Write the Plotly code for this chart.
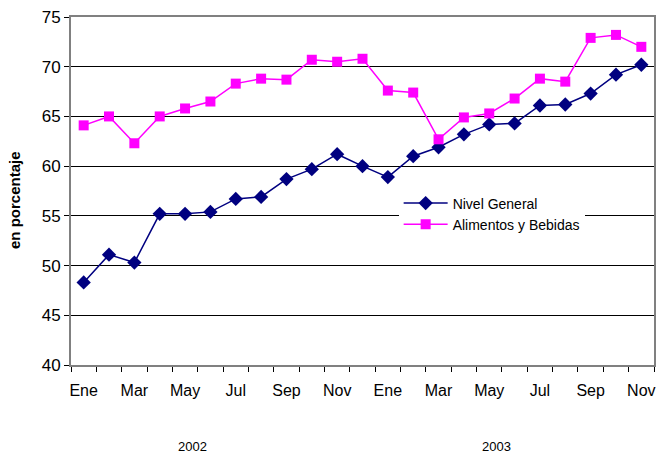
import plotly.graph_objects as go

months = ["Ene", "Feb", "Mar", "Abr", "May", "Jun", "Jul", "Ago", "Sep", "Oct", "Nov", "Dic",
          "Ene", "Feb", "Mar", "Abr", "May", "Jun", "Jul", "Ago", "Sep", "Oct", "Nov"]
nivel_general = [48.3, 51.1, 50.3, 55.2, 55.2, 55.4, 56.7, 56.9, 58.7, 59.7, 61.2, 60.0,
                 58.9, 61.0, 61.9, 63.2, 64.2, 64.3, 66.1, 66.2, 67.3, 69.2, 70.2]
alimentos = [64.1, 65.0, 62.3, 65.0, 65.8, 66.5, 68.3, 68.8, 68.7, 70.7, 70.5, 70.8,
             67.6, 67.4, 62.7, 64.9, 65.3, 66.8, 68.8, 68.5, 72.9, 73.2, 72.0]
years = ["2002", "2003"]
year_pos = [4.3, 16.3]
y_ticks = [40, 45, 50, 55, 60, 65, 70, 75]

x = list(range(len(months)))
font = "Liberation Sans, Arial, sans-serif"

PLOT_W, PLOT_H = 583, 348

fig = go.Figure()
fig.add_trace(go.Scatter(
    x=x, y=nivel_general, name="Nivel General", mode="lines+markers",
    line=dict(color="#000080", width=1.5),
    marker=dict(symbol="diamond", size=11, color="#000080"),
))
fig.add_trace(go.Scatter(
    x=x, y=alimentos, name="Alimentos y Bebidas", mode="lines+markers",
    line=dict(color="#FF00FF", width=1.5),
    marker=dict(symbol="square", size=10, color="#FF00FF"),
))

fig.update_layout(
    width=658, height=464,
    margin=dict(l=71, r=4, t=17, b=99),
    plot_bgcolor="white", paper_bgcolor="white",
    font=dict(family=font, color="black"),
    showlegend=True,
    legend=dict(x=0.562, y=0.51, xanchor="left", yanchor="top",
                bgcolor="white", borderwidth=0,
                font=dict(size=14, family=font), itemwidth=44,
                tracegroupgap=0),
    xaxis=dict(
        range=[-0.5, len(months) - 0.5],
        tickmode="array",
        tickvals=x[::2],
        ticktext=months[::2],
        ticks="", showgrid=False, zeroline=False,
        tickfont=dict(size=16, family=font),
        ticklabeloverflow="allow",
        ticklabelstandoff=10,
        showline=True, linecolor="#808080", linewidth=2, mirror=True,
        automargin=False,
        minor=dict(ticks="outside", tick0=-0.5, dtick=1, ticklen=5,
                   tickcolor="black", showgrid=False),
    ),
    yaxis=dict(
        range=[40, 75],
        tickmode="array", tickvals=y_ticks,
        ticks="outside", ticklen=5, tickcolor="black",
        showgrid=True, gridcolor="black", gridwidth=1,
        zeroline=False,
        tickfont=dict(size=17, family=font),
        ticklabeloverflow="allow",
        showline=True, linecolor="#808080", linewidth=2, mirror=True,
        automargin=False,
    ),
)

fig.add_annotation(
    x=(14 - 71) / PLOT_W, y=(365 - 200) / PLOT_H, xref="paper", yref="paper",
    text="<b>en porcentaje</b>", showarrow=False, textangle=-90,
    font=dict(size=15, family=font), xanchor="center", yanchor="middle",
)

for yr, pos in zip(years, year_pos):
    fig.add_annotation(
        x=pos, y=-(446 - 365) / PLOT_H,
        xref="x", yref="paper", text=yr, showarrow=False,
        font=dict(size=13, family=font), yanchor="middle",
    )

fig.write_html(
    "out.html",
    config={"displayModeBar": False},
    post_script="document.body.style.margin='0';document.body.style.overflow='hidden';",
)
